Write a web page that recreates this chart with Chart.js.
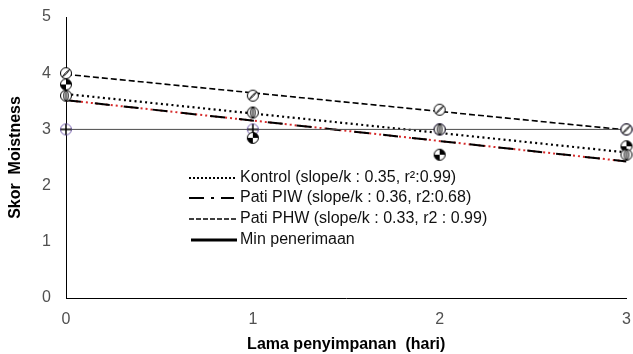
<!DOCTYPE html>
<html>
<head>
<meta charset="utf-8">
<script src="https://cdn.jsdelivr.net/npm/chart.js@4"></script>
<style>
  html, body { margin: 0; padding: 0; background: #fff; }
  #wrap { width: 633px; height: 354px; position: relative; }
</style>
</head>
<body>
<div id="wrap"><canvas id="c" width="633" height="354"></canvas></div>
<script>
// ---- data ----
const days = [0, 1, 2, 3];
const kontrol = [3.6, 3.3, 3.0, 2.55];
const patiPIW = [3.8, 2.85, 2.55, 2.7];
const patiPHW = [4.0, 3.6, 3.35, 3.0];
const minPenerimaan = [3, 3, 3, 3];
const trendDays = [0, 3];
const kontrolTrend = [3.63, 2.59];
const piwTrend = [3.52, 2.43];
const phwTrend = [3.98, 2.99];
const xTicks = [0, 1, 2, 3];
const yTicks = [0, 1, 2, 3, 4, 5];
const legendLabels = [
  'Kontrol (slope/k : 0.35, r\u00B2:0.99)',
  'Pati PIW (slope/k : 0.36, r2:0.68)',
  'Pati PHW (slope/k : 0.33, r2 : 0.99)',
  'Min penerimaan'
];

function pts(xs, ys) { return xs.map((x, i) => ({ x: x, y: ys[i] })); }

// ---- marker images ----
function marker(kind) {
  const s = 14, c = document.createElement('canvas');
  c.width = s; c.height = s;
  const g = c.getContext('2d');
  const cx = 7, cy = 7, r = 5.5;
  g.lineWidth = 1;
  g.fillStyle = '#fff';
  g.beginPath(); g.arc(cx, cy, r, 0, Math.PI * 2); g.fill();
  g.strokeStyle = '#000';
  if (kind === 'kontrol') {
    g.beginPath(); g.ellipse(cx, cy, 2.2, r - 0.5, 0, 0, Math.PI * 2); g.stroke();
    g.beginPath(); g.moveTo(cx, cy - r); g.lineTo(cx, cy + r); g.stroke();
  } else if (kind === 'piw') {
    g.fillStyle = '#000';
    g.beginPath(); g.moveTo(cx, cy); g.arc(cx, cy, r, -Math.PI / 2, 0); g.closePath(); g.fill();
    g.beginPath(); g.moveTo(cx, cy); g.arc(cx, cy, r, Math.PI / 2, Math.PI); g.closePath(); g.fill();
  } else if (kind === 'phw') {
    g.beginPath(); g.moveTo(cx - 3.8, cy + 3.8); g.quadraticCurveTo(cx - 1, cy - 1, cx + 3.8, cy - 3.8); g.stroke();
    g.beginPath(); g.moveTo(cx - 3.8, cy + 3.8); g.quadraticCurveTo(cx + 1, cy + 1, cx + 3.8, cy - 3.8); g.stroke();
  }
  if (kind === 'min') {
    g.strokeStyle = '#7a64b4';
    g.beginPath(); g.arc(cx, cy, r, 0, Math.PI * 2); g.stroke();
    g.strokeStyle = '#000'; g.lineWidth = 1.5;
    g.beginPath(); g.moveTo(cx - r, cy); g.lineTo(cx + r, cy); g.moveTo(cx, cy - r); g.lineTo(cx, cy + r); g.stroke();
  } else {
    g.strokeStyle = '#000';
    g.beginPath(); g.arc(cx, cy, r, 0, Math.PI * 2); g.stroke();
  }
  return c;
}

const FONT = "'Liberation Sans', Arial, sans-serif";

const legendPlugin = {
  id: 'customLegend',
  afterDraw(chart) {
    const ctx = chart.ctx;
    const x0 = 189, x1 = 237, tx = 240;
    const ys = [178, 198, 219, 240];
    ctx.save();
    ctx.strokeStyle = '#000';
    // Kontrol dotted
    ctx.lineWidth = 2; ctx.setLineDash([2, 2]);
    ctx.beginPath(); ctx.moveTo(x0, ys[0]); ctx.lineTo(x1, ys[0]); ctx.stroke();
    // PIW dash-dot
    ctx.lineWidth = 2; ctx.setLineDash([15, 7, 3, 7]);
    ctx.beginPath(); ctx.moveTo(x0, ys[1]); ctx.lineTo(x1 - 3, ys[1]); ctx.stroke();
    // PHW dashed
    ctx.lineWidth = 1.5; ctx.setLineDash([5, 2]);
    ctx.beginPath(); ctx.moveTo(x0, ys[2]); ctx.lineTo(x1, ys[2]); ctx.stroke();
    // Min solid
    ctx.lineWidth = 3; ctx.setLineDash([]);
    ctx.beginPath(); ctx.moveTo(x0 + 2, ys[3]); ctx.lineTo(x1, ys[3]); ctx.stroke();
    ctx.fillStyle = '#111';
    ctx.font = '16px ' + FONT;
    ctx.textBaseline = 'middle';
    legendLabels.forEach((t, i) => ctx.fillText(t, tx, ys[i]));
    ctx.restore();
  }
};

new Chart(document.getElementById('c'), {
  type: 'scatter',
  data: {
    datasets: [
      { label: 'Kontrol pts', data: pts(days, kontrol), pointStyle: marker('kontrol'), order: 1, showLine: false, clip: false },
      { label: 'PIW pts', data: pts(days, patiPIW), pointStyle: marker('piw'), order: 1, showLine: false, clip: false },
      { label: 'PHW pts', data: pts(days, patiPHW), pointStyle: marker('phw'), order: 1, showLine: false, clip: false },
      { label: 'Min penerimaan', data: pts(days, minPenerimaan), pointStyle: marker('min'), order: 2, showLine: true,
        borderColor: '#4a4a4a', borderWidth: 1, clip: false },
      { label: 'Kontrol trend', data: pts(trendDays, kontrolTrend), showLine: true, pointRadius: 0, order: 5,
        borderColor: '#000', borderWidth: 2.2, borderDash: [2, 3.3] },
      { label: 'PIW trend black', data: pts(trendDays, piwTrend), showLine: true, pointRadius: 0, order: 4,
        borderColor: '#000', borderWidth: 2, borderDash: [15, 14] },
      { label: 'PIW trend red', data: pts(trendDays, piwTrend), showLine: true, pointRadius: 0, order: 6,
        borderColor: '#d62a2a', borderWidth: 2, borderDash: [2, 3] },
      { label: 'PHW trend', data: pts(trendDays, phwTrend), showLine: true, pointRadius: 0, order: 5,
        borderColor: '#000', borderWidth: 1.6, borderDash: [6, 3] }
    ]
  },
  options: {
    responsive: false,
    animation: false,
    devicePixelRatio: 1,
    layout: { padding: { top: 17, right: 6, left: 0, bottom: 0 } },
    plugins: { legend: { display: false }, tooltip: { enabled: false } },
    elements: { point: { radius: 5.5 } },
    scales: {
      x: {
        type: 'linear', min: 0, max: 3,
        afterBuildTicks(s) { s.ticks = xTicks.map(v => ({ value: v })); },
        afterFit(s) { s.height = 56; s.paddingLeft = 0; s.paddingRight = 0; },
        grid: { display: false, drawTicks: false },
        border: { display: true, color: '#000', width: 1 },
        ticks: { color: '#505050', font: { size: 16, family: FONT }, padding: 12 },
        title: { display: true, text: 'Lama penyimpanan  (hari)', color: '#000',
          font: { size: 16, weight: 'bold', family: FONT }, padding: { top: 0, bottom: 0 } }
      },
      y: {
        type: 'linear', min: 0, max: 5,
        afterBuildTicks(s) { s.ticks = yTicks.map(v => ({ value: v })); },
        afterFit(s) { s.width = 66; s.paddingTop = 0; s.paddingBottom = 0; },
        grid: { display: false, drawTicks: false },
        border: { display: true, color: '#000', width: 1 },
        ticks: { color: '#505050', font: { size: 16, family: FONT }, padding: 15 },
        title: { display: true, text: 'Skor  Moistness', color: '#000',
          font: { size: 16, weight: 'bold', family: FONT }, padding: { top: 6, bottom: 0 } }
      }
    }
  },
  plugins: [legendPlugin]
});
</script>
</body>
</html>
